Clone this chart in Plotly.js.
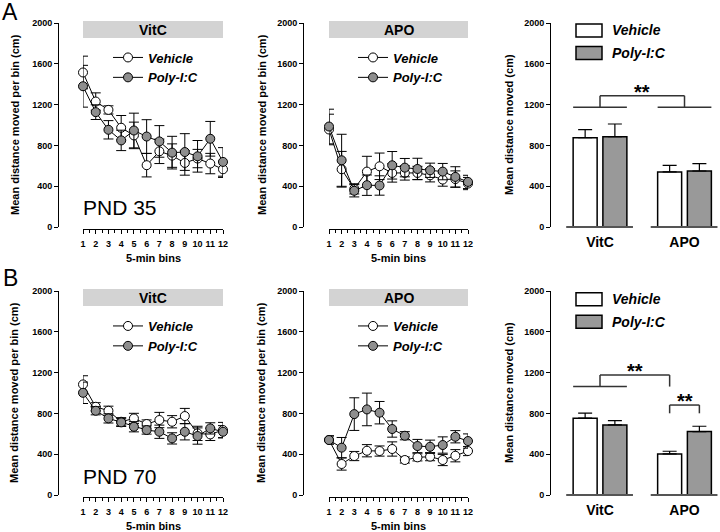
<!DOCTYPE html>
<html>
<head>
<meta charset="utf-8">
<script src="https://cdn.plot.ly/plotly-3.0.1.min.js"></script>
<style>
body { margin: 0; background: white; }
#myDiv { width: 720px; height: 532px; }
</style>
</head>
<body>
<div id="myDiv"></div>
<script>
var bins = [1, 2, 3, 4, 5, 6, 7, 8, 9, 10, 11, 12];
var groups = ['Vehicle', 'Poly-I:C'];

// PND 35 - VitC
var vitc35Veh = [1515, 1230, 1148, 973, 898, 606, 742, 700, 628, 671, 622, 566];
var vitc35VehErr = [160, 85, 40, 120, 130, 115, 120, 115, 120, 90, 100, 80];
var vitc35Poly = [1380, 1126, 953, 849, 946, 887, 839, 729, 735, 693, 865, 638];
var vitc35PolyErr = [205, 72, 90, 100, 170, 165, 155, 160, 180, 155, 170, 140];

// PND 35 - APO
var apo35Veh = [956, 566, 374, 543, 595, 530, 530, 530, 507, 465, 470, 426];
var apo35VehErr = [150, 175, 50, 150, 130, 90, 70, 65, 65, 65, 80, 60];
var apo35Poly = [985, 654, 355, 410, 407, 605, 582, 569, 556, 543, 491, 442];
var apo35PolyErr = [170, 255, 60, 100, 95, 135, 90, 105, 70, 80, 100, 65];

// PND 70 - VitC
var vitc70Veh = [1084, 865, 826, 718, 751, 696, 735, 718, 774, 604, 594, 637];
var vitc70VehErr = [85, 40, 45, 40, 50, 40, 75, 60, 75, 70, 60, 75];
var vitc70Poly = [1002, 826, 751, 712, 669, 637, 620, 555, 620, 578, 653, 620];
var vitc70PolyErr = [105, 40, 45, 40, 50, 40, 65, 55, 80, 80, 55, 60];

// PND 70 - APO
var apo70Veh = [540, 304, 382, 434, 431, 451, 343, 369, 376, 343, 385, 431];
var apo70VehErr = [40, 60, 45, 60, 50, 70, 30, 35, 40, 55, 60, 45];
var apo70Poly = [539, 464, 793, 839, 807, 647, 581, 480, 473, 490, 571, 529];
var apo70PolyErr = [40, 100, 160, 160, 110, 80, 40, 65, 65, 80, 60, 70];

// whole session totals
var barCats = ['VitC', 'APO'];
var bar35Veh = [875, 540];
var bar35VehErr = [80, 65];
var bar35Poly = [885, 549];
var bar35PolyErr = [125, 72];
var bar70Veh = [753, 403];
var bar70VehErr = [50, 26];
var bar70Poly = [687, 622];
var bar70PolyErr = [43, 52];

// significance brackets: [leg bottom, bracket top]
var sig35Main = [1174, 1287];
var sig70Main = [1063, 1176];
var sig70Apo = [801, 882];

var FONT = 'Liberation Sans, Arial, sans-serif';
var GRAY = '#8e8e8e';
var BARGRAY = '#999999';
var W = 720, H = 532;
function px(x) { return x / W; }
function py(y) { return 1 - y / H; }

var rowA = [py(227), py(23)];
var rowB = [py(495), py(291)];
var half = 0.176;   // offset of a bar from its group centre
var barHalfW = 0.142;

function lineTrace(y, err, poly, xa, ya, leg) {
  return {
    x: bins, y: y, xaxis: xa, yaxis: ya, legend: leg,
    type: 'scatter', mode: 'lines+markers', name: poly ? groups[1] : groups[0],
    cliponaxis: false,
    line: {color: 'black', width: 1},
    marker: {size: 9, color: poly ? GRAY : 'white', line: {color: 'black', width: 1}},
    error_y: {type: 'data', array: err, visible: true, color: 'black', thickness: 1, width: 5}
  };
}

function barTrace(y, err, poly, xa, ya) {
  return {
    x: barCats, y: y, xaxis: xa, yaxis: ya, type: 'bar', showlegend: false,
    name: poly ? groups[1] : groups[0],
    marker: {color: poly ? BARGRAY : 'white', line: {color: 'black', width: 1.5}},
    error_y: {type: 'data', array: err, arrayminus: err.map(function () { return 0; }),
      symmetric: false, visible: true, color: 'black', thickness: 1.2, width: 7}
  };
}

var data = [
  lineTrace(vitc35Veh, vitc35VehErr, false, 'x', 'y', 'legend'),
  lineTrace(vitc35Poly, vitc35PolyErr, true, 'x', 'y', 'legend'),
  lineTrace(apo35Veh, apo35VehErr, false, 'x2', 'y2', 'legend2'),
  lineTrace(apo35Poly, apo35PolyErr, true, 'x2', 'y2', 'legend2'),
  barTrace(bar35Veh, bar35VehErr, false, 'x3', 'y3'),
  barTrace(bar35Poly, bar35PolyErr, true, 'x3', 'y3'),
  lineTrace(vitc70Veh, vitc70VehErr, false, 'x4', 'y4', 'legend3'),
  lineTrace(vitc70Poly, vitc70PolyErr, true, 'x4', 'y4', 'legend3'),
  lineTrace(apo70Veh, apo70VehErr, false, 'x5', 'y5', 'legend4'),
  lineTrace(apo70Poly, apo70PolyErr, true, 'x5', 'y5', 'legend4'),
  barTrace(bar70Veh, bar70VehErr, false, 'x6', 'y6'),
  barTrace(bar70Poly, bar70PolyErr, true, 'x6', 'y6')
];

function yAx(domain, anchor, pos) {
  var a = {
    domain: domain, range: [0, 2000], tickvals: [0, 400, 800, 1200, 1600, 2000],
    ticks: 'outside', ticklen: 4, tickwidth: 1, tickcolor: 'black',
    showline: true, linecolor: 'black', linewidth: 1,
    showgrid: false, zeroline: false, fixedrange: true,
    tickfont: {family: FONT, size: 9, weight: 'bold', color: 'black'}
  };
  if (pos !== undefined) { a.anchor = 'free'; a.position = pos; } else { a.anchor = anchor; }
  return a;
}

function lineX(x0, x1, bottom) {
  return {
    domain: [px(x0), px(x1)], range: [1, 12], anchor: 'free', position: py(bottom + 1.5),
    tickvals: bins, ticks: 'outside', ticklen: 4, tickwidth: 1, tickcolor: 'black',
    minor: {dtick: 0.5, tick0: 1, ticks: 'outside', ticklen: 3, tickcolor: 'black'},
    showline: true, linecolor: 'black', linewidth: 1,
    showgrid: false, zeroline: false, fixedrange: true, ticklabelstandoff: 3,
    tickfont: {family: FONT, size: 9, weight: 'bold', color: 'black'}
  };
}

function barX(anchor) {
  return {
    domain: [px(551), 1], range: [-0.58, 1.42], anchor: anchor, type: 'category',
    showline: false, ticks: '', showgrid: false, zeroline: false, fixedrange: true,
    ticklabelstandoff: 5,
    tickfont: {family: FONT, size: 14, weight: 'bold', color: 'black'}
  };
}

function legendAt(x, yTop) {
  return {
    x: px(x), y: py(yTop), xanchor: 'left', yanchor: 'top', bgcolor: 'rgba(0,0,0,0)',
    font: {family: FONT, size: 13, weight: 'bold', style: 'italic', color: 'black'},
    itemclick: false, itemdoubleclick: false
  };
}

var shapes = [];
var annotations = [];

function txt(t, x, y, xref, yref, size, extra) {
  var a = {text: t, x: x, y: y, xref: xref, yref: yref, showarrow: false,
    xanchor: 'center', yanchor: 'middle',
    font: {family: FONT, size: size, color: 'black', weight: 'bold'}};
  for (var k in extra) a[k] = extra[k];
  return a;
}

// panel header bars and labels
[['x', 'y', 'VitC'], ['x2', 'y2', 'APO'], ['x4', 'y4', 'VitC'], ['x5', 'y5', 'APO']].forEach(function (p) {
  shapes.push({type: 'rect', xref: p[0] + ' domain', yref: p[1] + ' domain',
    x0: 0, x1: 1, y0: 0.926, y1: 1.01, fillcolor: '#d3d3d3', line: {width: 0}, layer: 'below'});
  annotations.push(txt(p[2], 0.5, 0.968, p[0] + ' domain', p[1] + ' domain', 14));
  annotations.push(txt('5-min bins', 0.5, -0.152, p[0] + ' domain', p[1] + ' domain', 11));
});

// y axis titles
[[15, 'y'], [262, 'y2'], [14, 'y4'], [261, 'y5']].forEach(function (p) {
  annotations.push(txt('Mean distance moved per bin (cm)', px(p[0]), 0.5, 'paper', p[1] + ' domain', 11,
    {textangle: -90}));
});
[[509, 'y3'], [509, 'y6']].forEach(function (p) {
  annotations.push(txt('Mean distance moved (cm)', px(p[0]), 0.5, 'paper', p[1] + ' domain', 11,
    {textangle: -90}));
});

// age labels and panel letters
annotations.push(txt('PND 35', 0.264, 0.098, 'x domain', 'y domain', 21, {font: {family: FONT, size: 21, color: 'black'}}));
annotations.push(txt('PND 70', 0.264, 0.093, 'x4 domain', 'y4 domain', 21, {font: {family: FONT, size: 21, color: 'black'}}));
annotations.push(txt('A', px(10), py(12), 'paper', 'paper', 23, {font: {family: FONT, size: 23, color: 'black'}}));
annotations.push(txt('B', px(10), py(278), 'paper', 'paper', 23, {font: {family: FONT, size: 23, color: 'black'}}));

// bar panel baselines, brackets, stars
function hline(xa, ya, x0, x1, y, w, c) {
  return {type: 'line', xref: xa, yref: ya, x0: x0, x1: x1, y0: y, y1: y, line: {color: c || '#333', width: w || 1.5}};
}
function vline(xa, ya, x, y0, y1) {
  return {type: 'line', xref: xa, yref: ya, x0: x, x1: x, y0: y0, y1: y1, line: {color: '#333', width: 1.5}};
}
function bracket(xa, ya, xl, xr, lo, hi) {
  shapes.push(vline(xa, ya, xl, lo, hi));
  shapes.push(hline(xa, ya, xl, xr, hi));
  shapes.push(vline(xa, ya, xr, lo, hi));
}
var ext = half + barHalfW;
[['x3', 'y3'], ['x6', 'y6']].forEach(function (p) {
  [0, 1].forEach(function (c) {
    shapes.push(hline(p[0], p[1] + ' domain', c - 0.40, c + 0.39, 0, 2, '#555'));
  });
});
var star = {yshift: 4};
// PND 35
shapes.push(hline('x3', 'y3', -ext, ext, sig35Main[0]));
shapes.push(hline('x3', 'y3', 1 - ext, 1 + ext, sig35Main[0]));
bracket('x3', 'y3', 0, 1, sig35Main[0], sig35Main[1]);
annotations.push(txt('**', 0.5, sig35Main[1], 'x3', 'y3', 20, star));
// PND 70
shapes.push(hline('x6', 'y6', -ext, ext, sig70Main[0]));
bracket('x6', 'y6', 0, 1 - half, sig70Main[0], sig70Main[1]);
annotations.push(txt('**', (1 - half) / 2, sig70Main[1], 'x6', 'y6', 20, star));
bracket('x6', 'y6', 1 - half, 1 + half, sig70Apo[0], sig70Apo[1]);
annotations.push(txt('**', 1, sig70Apo[1], 'x6', 'y6', 20, star));

// bar panel legends (wide boxes)
[24, 292.7].forEach(function (top) {
  shapes.push({type: 'rect', xref: 'paper', yref: 'paper', x0: px(576), x1: px(602), y0: py(top + 13), y1: py(top),
    fillcolor: 'white', line: {color: 'black', width: 1.5}});
  shapes.push({type: 'rect', xref: 'paper', yref: 'paper', x0: px(576), x1: px(602), y0: py(top + 35.5), y1: py(top + 22.5),
    fillcolor: BARGRAY, line: {color: 'black', width: 1.5}});
  annotations.push(txt(groups[0], px(610), py(top + 6.5), 'paper', 'paper', 14,
    {xanchor: 'left', font: {family: FONT, size: 14, weight: 'bold', style: 'italic', color: 'black'}}));
  annotations.push(txt(groups[1], px(610), py(top + 29), 'paper', 'paper', 14,
    {xanchor: 'left', font: {family: FONT, size: 14, weight: 'bold', style: 'italic', color: 'black'}}));
});

var layout = {
  width: W, height: H,
  margin: {l: 0, r: 0, t: 0, b: 0},
  paper_bgcolor: 'white', plot_bgcolor: 'rgba(0,0,0,0)',
  font: {family: FONT, color: 'black'},
  barmode: 'group', bargap: 0.296, bargroupgap: 0.193,
  xaxis: lineX(83, 223, 227),
  yaxis: yAx(rowA, null, px(58)),
  xaxis2: lineX(329, 468, 227),
  yaxis2: yAx(rowA, null, px(303)),
  xaxis3: barX('y3'),
  yaxis3: yAx(rowA, 'x3'),
  xaxis4: lineX(83, 223, 495),
  yaxis4: yAx(rowB, null, px(58)),
  xaxis5: lineX(329, 468, 495),
  yaxis5: yAx(rowB, null, px(303)),
  xaxis6: barX('y6'),
  yaxis6: yAx(rowB, 'x6'),
  legend: legendAt(108, 42.5),
  legend2: legendAt(353, 42.5),
  legend3: legendAt(108, 311),
  legend4: legendAt(353, 311),
  shapes: shapes,
  annotations: annotations
};

Plotly.newPlot('myDiv', data, layout, {displayModeBar: false, staticPlot: true});
</script>
</body>
</html>
